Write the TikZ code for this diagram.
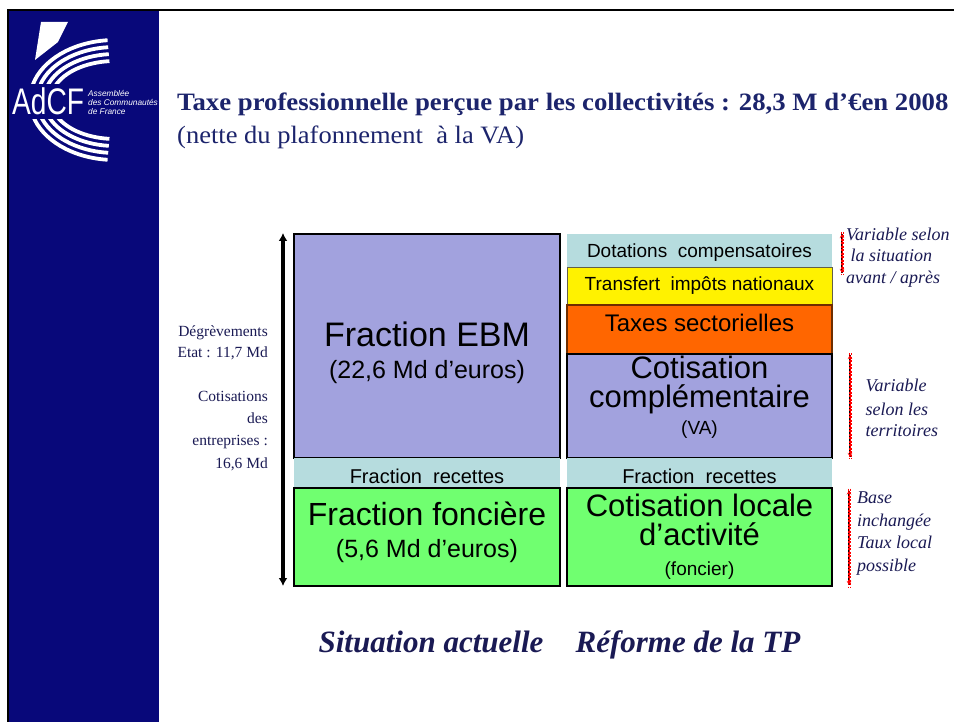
\documentclass[tikz,border=0pt]{standalone}
\usepackage{fontspec}
\setmainfont{Liberation Serif}
\newfontfamily\arial{Liberation Sans}
\usetikzlibrary{arrows.meta}
\definecolor{navy}{RGB}{8,8,122}
\definecolor{ink}{RGB}{28,36,108}
\definecolor{dink}{RGB}{26,26,84}
\definecolor{lav}{RGB}{162,162,222}
\definecolor{pale}{RGB}{182,220,222}
\definecolor{lgreen}{RGB}{112,255,112}
\definecolor{orng}{RGB}{255,102,0}
\definecolor{brwn}{RGB}{110,45,0}
\newcommand{\fs}[1]{\fontsize{#1}{#1}\selectfont}
\tikzset{
  box/.style={draw=black, line width=1.4pt},
  lbl/.style={inner sep=0pt, anchor=base, font=\arial},
  side/.style={inner sep=0pt, text=dink, font=\fs{15.5}, anchor=base east},
  sidei/.style={inner sep=0pt, text=dink, font=\fs{18}\itshape, anchor=base west},
  redline/.style={red, line width=0.8pt, dash pattern=on 2pt off 1.5pt},
  redtip/.style={red, line width=0.8pt, {Stealth[length=4pt,width=4.5pt]}-{Stealth[length=4pt,width=4.5pt]}},
  blkline/.style={black, line width=1.3pt},
  arc/.style={white, line width=3.8pt}
}
\begin{document}
\begin{tikzpicture}[x=1pt,y=-1pt]
\useasboundingbox (0,0) rectangle (954,722);
\fill[white] (0,0) rectangle (954,722);
% sidebar
\fill[navy] (8,10) rectangle (159,722);
\draw[black, line width=2.5pt] (7,10) -- (954,10);
\draw[black, line width=1.5pt] (8,10) -- (8,722);
% logo
\fill[white] (41,22) -- (68,22) -- (58,42) -- (35,60) -- cycle;
\foreach \r/\s in {0/0,7/7,14/14,21/21}{
  \draw[arc] (115,100) ++({195+\s*0.3}:{85-\r} and {60-\r}) arc[start angle={195+\s*0.3}, end angle=265, x radius={85-\r}, y radius={60-\r}];
  \draw[arc] (115,100) ++({165-\s*0.3}:{85-\r} and {60-\r}) arc[start angle={165-\s*0.3}, end angle=95, x radius={85-\r}, y radius={60-\r}];
}
\fill[navy] (10,84) rectangle (86,119);
\node[inner sep=0pt, anchor=base west, text=white, xscale=0.76, font=\arial\fs{37}] (adcf) at (12,115) {AdCF};
\node[inner sep=0pt, anchor=north west, text=white, font=\arial\itshape\fs{8.3}, align=left] (assem) at (88,90) {Assemblée\\[0.8pt]des Communautés\\[0.8pt]de France};
% title
\node[inner sep=0pt, anchor=base west, text=ink, xscale=1.07, font=\bfseries\fs{25}] (title) at (177,111) {Taxe professionnelle perçue par les collectivités : 28,3 M d’€en 2008};
\node[inner sep=0pt, anchor=base west, text=ink, xscale=1.06, font=\fs{25}] (subtitle) at (177,143.5) {(nette du plafonnement\ \ à la VA)};
% left column
\draw[box, fill=lav] (294,234) rectangle (560,458);
\fill[pale] (294,458) rectangle (560,488);
\draw[box, fill=lgreen] (294,488) rectangle (560,586);
% right column
\fill[pale] (567,234) rectangle (832,267);
\draw[draw=black!70!yellow, line width=0.8pt, fill=yellow] (567,267) rectangle (832,305);
\draw[draw=brwn, line width=1.4pt, fill=orng] (567,305) rectangle (832,354);
\draw[box, fill=lav] (567,354) rectangle (832,458);
\fill[pale] (567,458) rectangle (832,488);
\draw[box, fill=lgreen] (567,488) rectangle (832,586);
% texts in boxes
\node[lbl, font=\arial\fs{34}] (ebm) at (427,347) {Fraction EBM};
\node[lbl, font=\arial\fs{25}] (ebmv) at (427,378) {(22,6 Md d’euros)};
\node[lbl, font=\arial\fs{20}] (recl) at (427,483) {Fraction\ \ recettes};
\node[lbl, font=\arial\fs{32}] (fon) at (427,525) {Fraction foncière};
\node[lbl, font=\arial\fs{25}] (fonv) at (427,557.5) {(5,6 Md d’euros)};
\node[lbl, font=\arial\fs{19}] (dot) at (699.5,258) {Dotations\ \ compensatoires};
\node[lbl, font=\arial\fs{19}] (trans) at (699.5,291) {Transfert\ \ impôts nationaux};
\node[lbl, font=\arial\fs{24}] (tax) at (699.5,331.5) {Taxes sectorielles};
\node[lbl, font=\arial\fs{31}] (cot1) at (699.5,378.5) {Cotisation};
\node[lbl, font=\arial\fs{31}] (cot2) at (699.5,407) {complémentaire};
\node[lbl, font=\arial\fs{19}] (va) at (699.5,434) {(VA)};
\node[lbl, font=\arial\fs{20}] (recr) at (699.5,483) {Fraction\ \ recettes};
\node[lbl, font=\arial\fs{31}] (cla1) at (699.5,516) {Cotisation locale};
\node[lbl, font=\arial\fs{31}] (cla2) at (699.5,545.5) {d’activité};
\node[lbl, font=\arial\fs{19}] (fonc) at (699.5,575) {(foncier)};
% left big arrow
\coordinate (la) at (283,233);
\coordinate (lb) at (283,586);
\draw[black, line width=3.2pt, {Latex[length=8pt,width=9pt]}-{Latex[length=8pt,width=9pt]}] (la) -- (lb);
% left labels
\node[side] (d1) at (268,336.5) {Dégrèvements};
\node[side] (d2) at (268,358) {Etat : 11,7 Md};
\node[side] (c1) at (268,401.5) {Cotisations};
\node[side] (c2) at (268,423) {des};
\node[side] (c3) at (268,445) {entreprises :};
\node[side] (c4) at (268,468) {16,6 Md};
% right arrows
\coordinate (r1a) at (842,234); \coordinate (r1b) at (842,273);
\coordinate (r2a) at (850,355); \coordinate (r2b) at (850,457);
\coordinate (r3a) at (849,490.5); \coordinate (r3b) at (849,585);
\foreach \a/\b in {r1a/r1b,r2a/r2b,r3a/r3b}{
  \draw[blkline] (\a) -- (\b);
  \draw[redline] ([xshift=-1.1pt,yshift=2pt]\a) -- ([xshift=-1.1pt,yshift=-2pt]\b);
  \draw[redline] ([xshift=1.1pt,yshift=2pt]\a) -- ([xshift=1.1pt,yshift=-2pt]\b);
  \draw[redtip] (\a) -- (\b);
}
% right labels
\node[sidei] (v1) at (846,240.5) {Variable selon};
\node[sidei] (v2) at (850.5,261.5) {la situation};
\node[sidei] (v3) at (846,283.5) {avant / après};
\node[sidei] (t1) at (865.5,391.5) {Variable};
\node[sidei] (t2) at (865.5,415) {selon les};
\node[sidei] (t3) at (865.5,436.5) {territoires};
\node[sidei] (b1) at (857,503) {Base};
\node[sidei] (b2) at (857,526.5) {inchangée};
\node[sidei] (b3) at (857,548) {Taux local};
\node[sidei] (b4) at (857,571.5) {possible};
% bottom labels
\node[inner sep=0pt, anchor=base, text=dink, font=\bfseries\itshape\fs{31}] (sit) at (431,652.5) {Situation actuelle};
\node[inner sep=0pt, anchor=base, text=dink, font=\bfseries\itshape\fs{31}] (ref) at (688,652.5) {Réforme de la TP};
\end{tikzpicture}
\end{document}
